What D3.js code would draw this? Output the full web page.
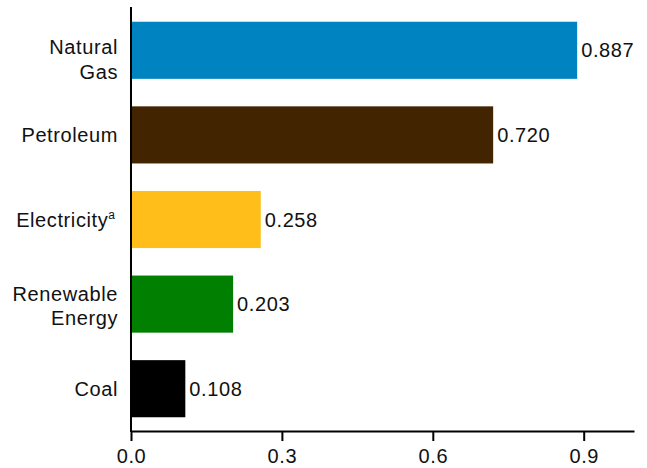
<!DOCTYPE html>
<html>
<head>
<meta charset="utf-8">
<script src="https://cdn.jsdelivr.net/npm/d3@7"></script>
<style>
  html, body { margin: 0; padding: 0; background: #fff; }
  svg { display: block; font-family: "Liberation Sans", Arial, sans-serif; }
  svg text { letter-spacing: 0.6px; }
</style>
</head>
<body>
<svg id="chart" width="647" height="468"></svg>
<script>
const categories = ["Natural Gas", "Petroleum", "Electricity", "Renewable Energy", "Coal"];
const labelLines = [["Natural", "Gas"], ["Petroleum"], ["Electricity"], ["Renewable", "Energy"], ["Coal"]];
const superscripts = ["", "", "a", "", ""];
const values = [0.887, 0.720, 0.258, 0.203, 0.108];
const colors = ["#0083C1", "#432400", "#FFBE1A", "#007F00", "#000000"];
const xTicks = [0, 0.3, 0.6, 0.9];

(function () {
const svg = d3.select("#chart");
const mLeft = 131, mRight = 634, mTop = 8, mBottom = 431;
const fontSize = 20;

const x = d3.scaleLinear().domain([0, 1]).range([mLeft, mRight]);
const y = d3.scaleBand().domain(categories).range([mTop, mBottom])
  .paddingInner(0.325).paddingOuter(0.1625);

// bars
svg.append("g").selectAll("rect").data(categories).join("rect")
  .attr("x", x(0))
  .attr("y", d => y(d))
  .attr("width", (d, i) => x(values[i]) - x(0))
  .attr("height", y.bandwidth())
  .attr("fill", (d, i) => colors[i]);

// value labels
svg.append("g").selectAll("text").data(categories).join("text")
  .attr("x", (d, i) => x(values[i]) + 4)
  .attr("y", d => y(d) + y.bandwidth() / 2 + 7)
  .attr("font-size", fontSize)
  .attr("fill", "#111")
  .text((d, i) => d3.format(".3f")(values[i]));

// category labels
const lineOffsets = { "Natural Gas": [4, 28.5], "Renewable Energy": [-3, 21] };
const catG = svg.append("g");
categories.forEach((c, i) => {
  const cy = y(c) + y.bandwidth() / 2;
  const lines = labelLines[i];
  const offs = lineOffsets[c] || [7.5];
  lines.forEach((ln, j) => {
    const hasSup = superscripts[i] && j === lines.length - 1;
    const t = catG.append("text")
      .attr("x", hasSup ? 115 : 118)
      .attr("y", cy + offs[j])
      .attr("text-anchor", "end")
      .attr("font-size", fontSize)
      .attr("fill", "#111");
    t.append("tspan").text(ln);
    if (hasSup) {
      t.append("tspan").attr("font-size", 12).attr("dy", -8)
        .style("letter-spacing", "0px").text(superscripts[i]);
    }
  });
});

// x axis
const xAxis = svg.append("g")
  .attr("transform", `translate(0,${mBottom})`)
  .call(d3.axisBottom(x).tickValues(xTicks).tickFormat(d3.format(".1f"))
    .tickSize(10).tickSizeOuter(0).tickPadding(8));
xAxis.select(".domain").attr("stroke", "#000").attr("stroke-width", 2);
xAxis.selectAll(".tick line").attr("stroke", "#000").attr("stroke-width", 2);
xAxis.selectAll(".tick text").attr("font-size", fontSize)
  .attr("font-family", "Liberation Sans, Arial, sans-serif").attr("fill", "#111");

// y axis line
const yAxis = svg.append("g")
  .attr("transform", `translate(${mLeft},0)`)
  .call(d3.axisLeft(y).tickSize(0).tickSizeOuter(0).tickFormat(""));
yAxis.select(".domain").attr("stroke", "#000").attr("stroke-width", 2)
  .attr("d", `M0,${mTop - 1}V${mBottom + 1}`);
})();
</script>
</body>
</html>
